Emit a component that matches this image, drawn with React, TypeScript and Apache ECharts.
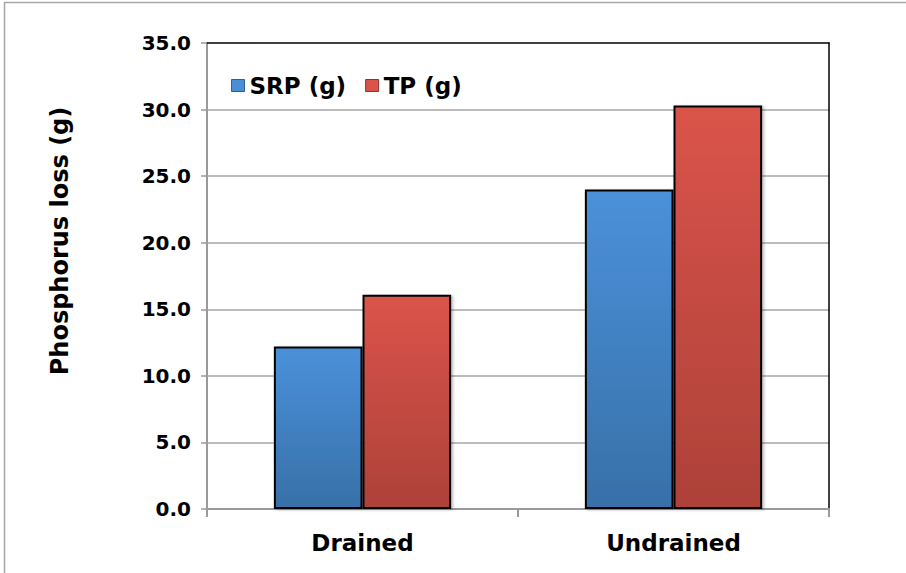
import React, { useEffect, useRef } from "react";
import * as echarts from "echarts";

const categories = ["Drained", "Undrained"];
const srpValues = [12.2, 24.0];
const tpValues = [16.1, 30.3];
const seriesNames = ["SRP (g)", "TP (g)"];
const yAxisTitle = "Phosphorus loss (g)";

const FONT = "DejaVu Sans, Verdana, sans-serif";

export default function App() {
  const ref = useRef<HTMLDivElement>(null);
  useEffect(() => {
    if (!ref.current) return;
    const chart = echarts.init(ref.current, null, { renderer: "svg" });
    const blue = new echarts.graphic.LinearGradient(0, 0, 0, 1, [
      { offset: 0, color: "#4a91da" },
      { offset: 1, color: "#3870a8" },
    ]);
    const red = new echarts.graphic.LinearGradient(0, 0, 0, 1, [
      { offset: 0, color: "#da544a" },
      { offset: 1, color: "#ad4139" },
    ]);
    const barStyle = (fill: any) => ({
      color: fill,
      borderColor: "#000",
      borderWidth: 2,
      shadowColor: "rgba(0,0,0,0.25)",
      shadowBlur: 3,
      shadowOffsetX: 2,
      shadowOffsetY: 1,
    });
    chart.setOption({
      animation: false,
      backgroundColor: "#ffffff",
      grid: {
        left: 207,
        right: 77,
        top: 43,
        bottom: 64,
      },
      legend: {
        left: 226,
        top: 69,
        icon: "rect",
        itemWidth: 13,
        itemHeight: 12,
        itemGap: 19,
        textStyle: { fontFamily: FONT, fontWeight: "bold", fontSize: 23, color: "#000" },
        data: [
          { name: seriesNames[0], itemStyle: { color: "#4a8fd6", borderColor: "#2d5f96", borderWidth: 1 } },
          { name: seriesNames[1], itemStyle: { color: "#d9544a", borderColor: "#8f332c", borderWidth: 1 } },
        ],
      },
      xAxis: [
        {
          type: "category",
          data: categories,
          axisLine: { lineStyle: { color: "#9a9a9a", width: 2 } },
          axisTick: { show: true, length: 8, lineStyle: { color: "#9a9a9a", width: 2 } },
          axisLabel: {
            fontFamily: FONT,
            fontWeight: "bold",
            fontSize: 23,
            color: "#000",
            margin: 22,
          },
        },
        {
          type: "category",
          position: "top",
          data: categories,
          axisLine: { show: true, onZero: false, lineStyle: { color: "#000", width: 1.5 } },
          axisTick: { show: false },
          axisLabel: { show: false },
          splitLine: { show: false },
        },
      ],
      yAxis: [
        {
          type: "value",
          min: 0,
          max: 35,
          interval: 5,
          axisLine: { show: true, lineStyle: { color: "#9a9a9a", width: 2 } },
          axisTick: { show: true, length: 6, lineStyle: { color: "#9a9a9a", width: 1.5 } },
          splitLine: { showMaxLine: false, showMinLine: false, lineStyle: { color: "#a6a6a6", width: 1.5 } },
          axisLabel: {
            fontFamily: FONT,
            fontWeight: "bold",
            fontSize: 20,
            color: "#000",
            margin: 16,
            formatter: (v: number) => v.toFixed(1),
          },
        },
        {
          type: "value",
          position: "right",
          min: 0,
          max: 35,
          interval: 5,
          axisLine: { show: true, onZero: false, lineStyle: { color: "#000", width: 1.5 } },
          axisTick: { show: false },
          axisLabel: { show: false },
          splitLine: { show: false },
        },
      ],
      graphic: [
        {
          type: "rect",
          shape: { x: 4.5, y: 2.5, width: 960, height: 640 },
          style: { fill: "none", stroke: "#a6a6a6", lineWidth: 1.5 },
          silent: true,
        },
        {
          type: "text",
          x: 60,
          y: 241,
          rotation: Math.PI / 2,
          style: {
            text: yAxisTitle,
            fontFamily: FONT,
            fontWeight: "bold",
            fontSize: 24,
            fill: "#000",
            align: "center",
            verticalAlign: "middle",
          },
        },
      ],
      series: [
        {
          name: seriesNames[0],
          type: "bar",
          data: srpValues,
          barGap: "0%",
          barCategoryGap: "43%",
          itemStyle: barStyle(blue),
        },
        {
          name: seriesNames[1],
          type: "bar",
          data: tpValues,
          itemStyle: barStyle(red),
        },
      ],
    });
    return () => chart.dispose();
  }, []);
  return (
    <div
      ref={ref}
      style={{ position: "absolute", left: 0, top: 0, width: 906, height: 573 }}
    />
  );
}
